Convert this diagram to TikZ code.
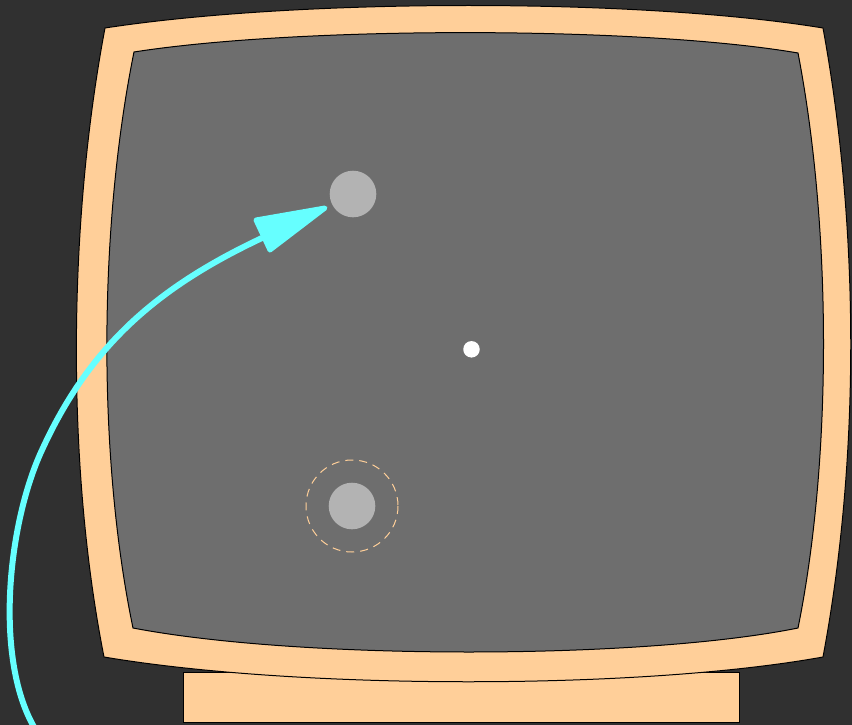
\documentclass[tikz,border=0pt]{standalone}
\begin{document}
\begin{tikzpicture}[x=1pt,y=-1pt,
  outline/.style={draw=black,line width=1pt},
  ball/.style={circle,fill=ballgray,draw=none,minimum size=46.6pt,inner sep=0pt},
  path arrow/.style={draw=cyanline,line width=6pt,line cap=round},
  arrow head/.style={fill=cyanline,draw=cyanline,line width=5pt,line join=round}]
\definecolor{bg}{RGB}{48,48,48}
\definecolor{peach}{RGB}{255,207,153}
\definecolor{screen}{RGB}{110,110,110}
\definecolor{ballgray}{RGB}{179,179,179}
\definecolor{cyanline}{RGB}{102,255,255}

% backdrop
\fill[bg] (0,0) rectangle (852,725);
\useasboundingbox (0,0) rectangle (852,725);

% stand
\fill[peach,outline] (183,672) rectangle (739,722);

% cabinet
\fill[peach,outline] (105,28) .. controls (300,-2) and (640,-2) .. (823,28)
  .. controls (860,230) and (860,460) .. (823,657)
  .. controls (640,690) and (300,690) .. (104,657)
  .. controls (67,470) and (67,230) .. cycle;

% screen
\fill[screen,outline] (134,52) .. controls (300,26) and (640,26) .. (798,53)
  .. controls (832,230) and (832,460) .. (798,628)
  .. controls (640,660) and (300,660) .. (133,628)
  .. controls (98,460) and (98,230) .. cycle;

% objects on the screen
\node[ball] (top) at (353,194) {};
\node[ball] (bottom) at (352,506) {};
\draw[peach,line width=1pt,dash pattern=on 8pt off 6pt] (bottom.center) circle[radius=46];
\node[circle,fill=white,minimum size=16.5pt,inner sep=0pt] (dot) at (471.5,349.3) {};

% trajectory arrow
\coordinate (start) at (34,727);
\coordinate (bend) at (42,450);
\coordinate (base) at (262,238);
\coordinate (tip) at (325,208);
\draw[path arrow] (start) .. controls (-6,657) and (8,523) .. (bend)
  .. controls (90,345) and (158,287) .. (base);
\filldraw[arrow head] (tip) -- (256,220) -- (270,250) -- cycle;
\end{tikzpicture}
\end{document}
